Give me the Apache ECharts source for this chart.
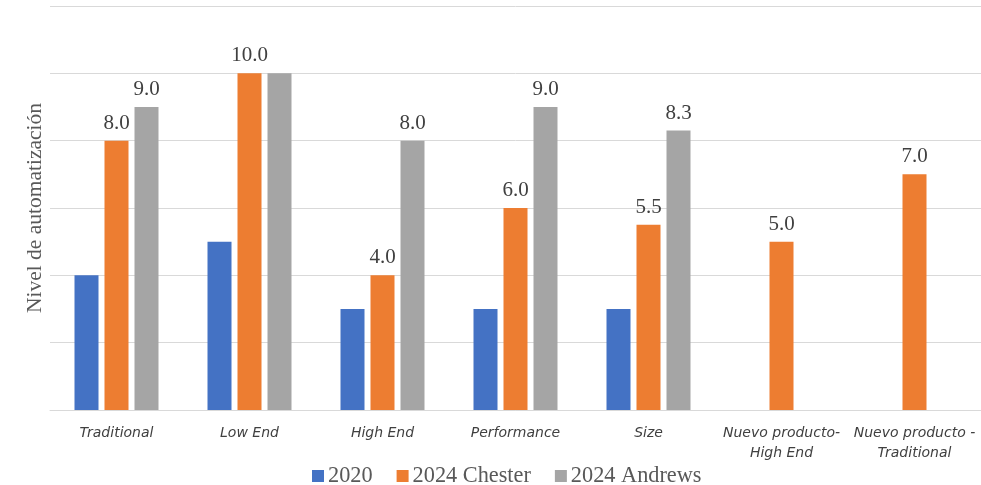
<!DOCTYPE html>
<html><head><meta charset="utf-8">
<script src="https://cdn.jsdelivr.net/npm/echarts@6/dist/echarts.min.js"></script>
<style>html,body{margin:0;padding:0;background:#fff}#c{width:981px;height:485px}</style>
</head><body><div id="c"></div>
<script>
var categories = ['Traditional','Low End','High End','Performance','Size','Nuevo producto-\nHigh End','Nuevo producto -\nTraditional'];
var s2020 = [4, 5, 3, 3, 3, null, null];
var sChester = [8, 10, 4, 6, 5.5, 5, 7];
var sAndrews = [9, 10, 8, 9, 8.3, null, null];
var andrewsLabelHidden = [1];
var seriesNames = ['2020','2024 Chester','2024 Andrews'];
var colors = ['#4472C4','#ED7D31','#A5A5A5'];

var serif = '"Liberation Serif","DejaVu Serif",serif';
var lbl = {show:true, position:'top', distance:7, fontFamily:serif, fontSize:21, color:'#404040',
  formatter:function(p){return p.value==null?'':Number(p.value).toFixed(1);}};

var chart = echarts.init(document.getElementById('c'));
chart.setOption({
  animation:false,
  color:colors,
  grid:{left:50,right:0,top:6,bottom:75,containLabel:false},
  legend:{bottom:-2,padding:0,left:312,itemWidth:12,itemHeight:12,itemGap:24,icon:'rect',
    textStyle:{fontFamily:serif,fontSize:22.3,color:'#595959',padding:[0,0,0,-1]},data:seriesNames},
  xAxis:{type:'category',data:categories,
    axisLine:{lineStyle:{color:'#d9d9d9',width:1}},axisTick:{show:false},
    axisLabel:{interval:0,fontFamily:'"DejaVu Sans",Verdana,sans-serif',fontStyle:'italic',fontSize:14,color:'#404040',margin:13,lineHeight:20}},
  yAxis:{type:'value',min:0,max:12,interval:2,
    name:'Nivel de automatización',nameLocation:'middle',nameGap:4,
    nameTextStyle:{fontFamily:serif,fontSize:21.5,color:'#595959'},
    axisLabel:{show:false},axisLine:{show:false},axisTick:{show:false},
    splitLine:{lineStyle:{color:'#d9d9d9',width:1}}},
  series:[
    {name:seriesNames[0],type:'bar',data:s2020,barWidth:24,barGap:'25%',barCategoryGap:'37%'},
    {name:seriesNames[1],type:'bar',data:sChester,barWidth:24,barGap:'25%',label:lbl},
    {name:seriesNames[2],type:'bar',barWidth:24,barGap:'25%',label:lbl,
      data:sAndrews.map(function(v,i){return andrewsLabelHidden.indexOf(i)>=0?{value:v,label:{show:false}}:v;})}
  ]
});
</script></body></html>
